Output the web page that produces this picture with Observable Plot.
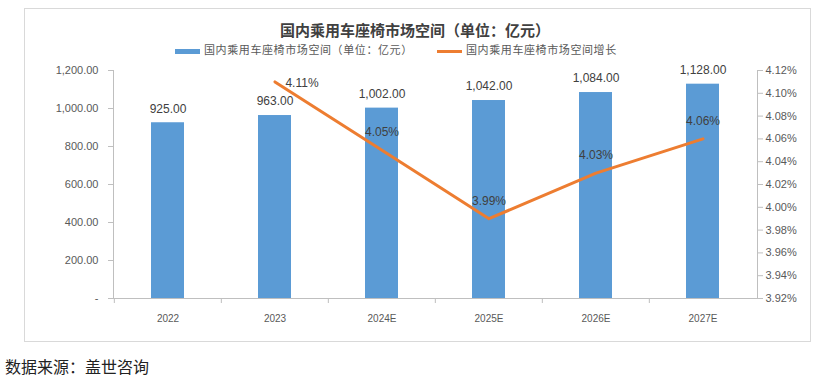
<!DOCTYPE html>
<html>
<head>
<meta charset="utf-8">
<script src="https://cdn.jsdelivr.net/npm/d3@7"></script>
<script src="https://cdn.jsdelivr.net/npm/@observablehq/plot@0.6"></script>
<style>
  html, body { margin: 0; padding: 0; background: #fff; }
  body { width: 830px; height: 380px; position: relative; overflow: hidden; font-family: "Noto Sans CJK SC", "Liberation Sans", sans-serif; }
  #box { position: absolute; left: 24px; top: 8px; width: 787px; height: 334px; border: 1px solid #d9d9d9; box-sizing: border-box; }
  #title { position: absolute; left: 0; width: 830px; top: 19px; text-align: center; font-size: 15px; font-weight: bold; color: #404040; }
  #legend { position: absolute; top: 41px; left: 0; width: 830px; font-size: 11px; color: #595959; }
  .li { position: absolute; top: 0; white-space: nowrap; letter-spacing: 0.6px; }
  .sw { display: inline-block; vertical-align: middle; margin-right: 4px; }
  #chart1, #chart2 { position: absolute; left: 0; top: 60px; }
  #caption { position: absolute; left: 5px; top: 354px; font-size: 16px; color: #222; }
</style>
</head>
<body>
<div id="box"></div>
<div id="title">国内乘用车座椅市场空间（单位：亿元）</div>
<div id="legend"></div>
<div id="chart1"></div>
<div id="chart2"></div>
<div id="caption">数据来源：盖世咨询</div>
<script>
const categories = ["2022", "2023", "2024E", "2025E", "2026E", "2027E"];
const marketSize = [925, 963, 1002, 1042, 1084, 1128];
const growthCategories = ["2023", "2024E", "2025E", "2026E", "2027E"];
const growthRates = [4.11, 4.05, 3.99, 4.03, 4.06];
const leftTicks = [0, 200, 400, 600, 800, 1000, 1200];
const rightTicks = [3.92, 3.94, 3.96, 3.98, 4.00, 4.02, 4.04, 4.06, 4.08, 4.10, 4.12];
const seriesNames = ["国内乘用车座椅市场空间（单位：亿元）", "国内乘用车座椅市场空间增长"];

const BAR = "#5B9BD5", LINE = "#ED7D31", AX = "#595959", AXLINE = "#bfbfbf";

const barData = categories.map((c, i) => ({cat: c, v: marketSize[i]}));
const lineData = growthCategories.map((c, i) => ({cat: c, g: growthRates[i]}));

// legend
const legend = document.getElementById("legend");
legend.innerHTML =
  `<span class="li" style="left:175px"><span class="sw" style="width:25px;height:5px;background:${BAR}"></span>${seriesNames[0]}</span>` +
  `<span class="li" style="left:437px"><span class="sw" style="width:25px;height:3px;background:${LINE}"></span>${seriesNames[1]}</span>`;

const common = {
  width: 830, height: 280,
  marginLeft: 113, marginRight: 73, marginTop: 10, marginBottom: 42,
  style: {background: "transparent", fontFamily: "'Liberation Sans', sans-serif", color: AX, overflow: "visible"}
};
const leftFmt = d => d === 0 ? "-" : d3.format(",.2f")(d);
const bw = (830 - 113 - 73) / categories.length;

const chart1 = Plot.plot({
  ...common,
  x: {type: "band", domain: categories, paddingInner: 0.69, paddingOuter: 0.345, axis: null, label: null},
  y: {domain: [0, 1200], axis: null, label: null},
  marks: [
    Plot.axisY({ticks: leftTicks, tickFormat: leftFmt, tickSize: 5, tickPadding: 10, fontSize: 11, stroke: AXLINE, fill: AX, label: null, style: "letter-spacing:0.5px"}),
    Plot.axisX({tickSize: 0, tickPadding: 16, fontSize: 10, fill: AX, label: null}),
    Plot.axisX({tickSize: 5, tickFormat: () => "", dx: -bw / 2, stroke: AXLINE, label: null}),
    Plot.barY(barData, {x: "cat", y: "v", fill: BAR}),
    Plot.text(barData, {x: "cat", y: "v", text: d => d3.format(",.2f")(d.v), dy: -14, fontSize: 12, fill: "#404040", style: "letter-spacing:0.6px"}),
    Plot.ruleY([0], {stroke: AXLINE}),
    Plot.frame({anchor: "left", stroke: AXLINE})
  ]
});
document.getElementById("chart1").appendChild(chart1);

const pctFmt = d => d.toFixed(2) + "%";
const chart2 = Plot.plot({
  ...common,
  x: {type: "band", domain: categories, padding: 0, axis: null, label: null},
  y: {domain: [3.92, 4.12], axis: null, label: null},
  marks: [
    Plot.axisY({anchor: "right", ticks: rightTicks, tickFormat: pctFmt, tickSize: 5, tickPadding: 3, fontSize: 11, stroke: AXLINE, fill: AX, label: null, style: "letter-spacing:0.5px"}),
    Plot.frame({anchor: "right", stroke: AXLINE}),
    Plot.lineY(lineData, {x: "cat", y: "g", stroke: LINE, strokeWidth: 3}),
    Plot.text(lineData.slice(0, 1), {x: "cat", y: "g", text: d => pctFmt(d.g), dx: 27, dy: 1, fontSize: 12, fill: "#404040"}),
    Plot.text(lineData.slice(1), {x: "cat", y: "g", text: d => pctFmt(d.g), dy: -18, fontSize: 12, fill: "#404040"})
  ]
});
document.getElementById("chart2").appendChild(chart2);
</script>
</body>
</html>
